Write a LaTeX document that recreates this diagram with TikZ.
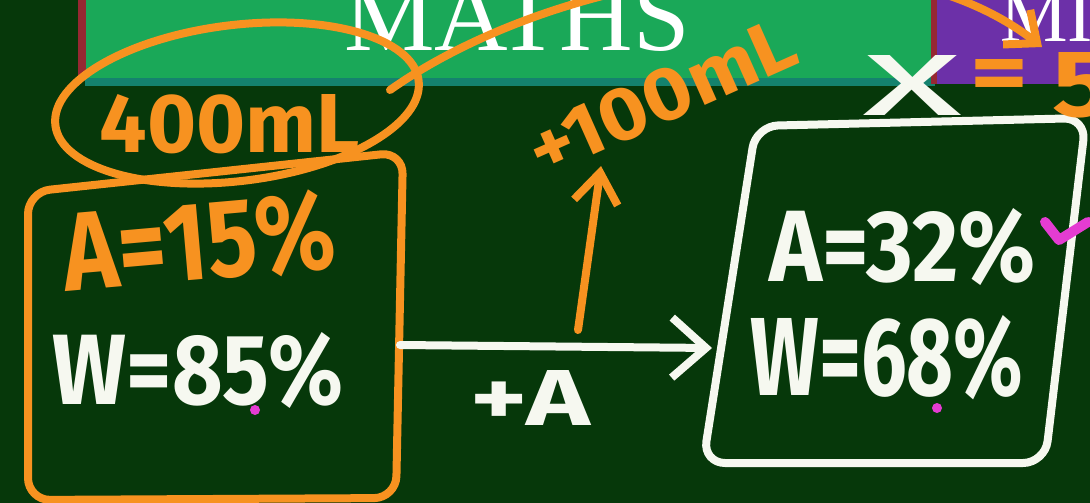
\documentclass[tikz,border=0pt]{standalone}
\usepackage{fontspec}
\usepackage{graphicx}
\newfontfamily\hand{Fira Sans}
\newfontfamily\serifm{Liberation Serif}
\usetikzlibrary{arrows.meta,shapes.geometric}
\definecolor{board}{RGB}{6,56,10}
\definecolor{banner}{RGB}{26,168,88}
\definecolor{bannerlow}{RGB}{20,130,110}
\definecolor{purp}{RGB}{108,48,168}
\definecolor{chalkor}{RGB}{247,146,32}
\definecolor{chalkwh}{RGB}{246,248,240}
\definecolor{pinkm}{RGB}{228,60,210}
\definecolor{redstrip}{RGB}{150,40,50}
\tikzset{
  orstroke/.style={draw=chalkor, line width=8pt, line cap=round, line join=round},
  whstroke/.style={draw=chalkwh, line width=8pt, line cap=round, line join=round},
  txt/.style={inner sep=0pt, anchor=center, font=\hand\bfseries},
  ortxt/.style={txt, text=chalkor},
  whtxt/.style={txt, text=chalkwh},
}
\begin{document}
\begin{tikzpicture}[x=1pt,y=-1pt]
\useasboundingbox (0,0) rectangle (1090,503);
\clip (0,0) rectangle (1090,503);
\fill[board] (0,0) rectangle (1090,503);
% banner
\fill[banner] (85,0) rectangle (935,80);
\fill[bannerlow] (85,78) rectangle (935,86);
\fill[redstrip] (78,0) rectangle (86,76);
\fill[purp] (935,0) rectangle (1090,84);
\fill[redstrip] (931,0) rectangle (937,84);
\node[inner sep=0pt, anchor=south, text=white, font=\serifm] (maths) at (517,52) {\resizebox{345pt}{!}{MATHS}};
\node[inner sep=0pt, anchor=south west, text=white, font=\serifm\fontsize{76}{80}\selectfont] (mi) at (1000,42) {MI};
% left box
\draw[orstroke, rounded corners=22pt] (28,192) -- (403,152) -- (396,498) -- (28,500) -- cycle;
% ellipse
\node[draw=chalkor, line width=8pt, ellipse, minimum width=366pt, minimum height=156pt, rotate=7] (ell) at (237,103) {};
\node[ortxt] (vol) at (230,124) {\resizebox{260pt}{58pt}{400mL}};
\node[ortxt, rotate=5] (a15) at (199,242) {\resizebox{272pt}{80pt}{A=15\%}};
\node[whtxt] (w85) at (198,370) {\resizebox{290pt}{72pt}{W=85\%}};
\fill[pinkm] (255,410) circle (5pt);
% arc arrow
\coordinate (arcs) at (390,90);
\coordinate (arce) at (1042,47);
\draw[orstroke, -{Straight Barb[length=26pt,width=44pt]}] (arcs) .. controls (560,-30) and (880,-80) .. (arce);
% +100mL
\node[ortxt, rotate=24] (add) at (662,97) {\resizebox{285pt}{52pt}{+100mL}};
\coordinate (upS) at (578,330);
\coordinate (upE) at (601,166);
\draw[orstroke, -{Straight Barb[length=30pt,width=44pt]}] (upS) -- (upE);
% white arrow
\coordinate (lboxE) at (400,345);
\coordinate (rboxW) at (712,348);
\draw[whstroke, -{Straight Barb[length=34pt,width=60pt]}] (lboxE) -- (rboxW);
\node[whtxt] (plusA) at (530,398) {\resizebox{120pt}{55pt}{+A}};
% right box
\draw[whstroke, rounded corners=22pt] (756,126) -- (1086,118) -- (1045,463) -- (703,463) -- cycle;
\node[whtxt] (a32) at (903,247) {\resizebox{266pt}{73pt}{A=32\%}};
\node[whtxt] (w68) at (887,358) {\resizebox{273pt}{80pt}{W=68\%}};
\fill[pinkm] (937,408) circle (5pt);
\draw[draw=pinkm, line width=10pt, line cap=round, line join=round] (1045,222) -- (1059,240) -- (1088,222);
% x = 5
\node[txt, text=chalkwh, font=\hand] (xv) at (913,85) {\resizebox{100pt}{60pt}{x}};
\node[ortxt] (eq) at (1000,80) {\resizebox{58pt}{42pt}{=}};
\node[ortxt] (five) at (1082,85) {\resizebox{60pt}{64pt}{5}};
\end{tikzpicture}
\end{document}
